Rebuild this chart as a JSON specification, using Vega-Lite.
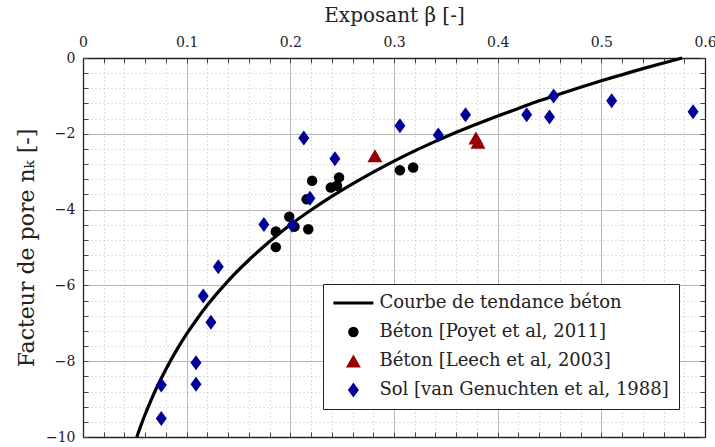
{
  "$schema": "https://vega.github.io/schema/vega-lite/v6.json",
  "autosize": {"type": "none"},
  "padding": {"left": 83, "top": 58, "right": 10, "bottom": 10},
  "width": 622,
  "height": 379,
  "background": "white",
  "config": {
    "font": "DejaVu Serif",
    "view": {"stroke": null},
    "axis": {
      "labelFont": "DejaVu Serif",
      "labelFontSize": 14,
      "labelColor": "#222",
      "titleFont": "DejaVu Serif",
      "titleFontSize": 20,
      "titleFontWeight": "normal",
      "titleColor": "#222",
      "tickColor": "#444",
      "tickWidth": 1,
      "domainColor": "#222",
      "domainWidth": 1.3
    },
    "legend": {
      "labelFont": "DejaVu Serif",
      "labelFontSize": 18,
      "labelColor": "#222",
      "labelLimit": 500
    }
  },
  "datasets": {
    "curve": [
      {"beta": 0.0519, "nk": -10}, {"beta": 0.055, "nk": -9.76}, {"beta": 0.06, "nk": -9.40},
      {"beta": 0.065, "nk": -9.07}, {"beta": 0.07, "nk": -8.76}, {"beta": 0.08, "nk": -8.21},
      {"beta": 0.09, "nk": -7.72}, {"beta": 0.10, "nk": -7.28}, {"beta": 0.11, "nk": -6.885},
      {"beta": 0.12, "nk": -6.52}, {"beta": 0.14, "nk": -5.88}, {"beta": 0.16, "nk": -5.33},
      {"beta": 0.18, "nk": -4.84}, {"beta": 0.20, "nk": -4.40}, {"beta": 0.22, "nk": -4.01},
      {"beta": 0.24, "nk": -3.65}, {"beta": 0.26, "nk": -3.32}, {"beta": 0.28, "nk": -3.01},
      {"beta": 0.30, "nk": -2.72}, {"beta": 0.32, "nk": -2.45}, {"beta": 0.34, "nk": -2.20},
      {"beta": 0.36, "nk": -1.96}, {"beta": 0.38, "nk": -1.74}, {"beta": 0.40, "nk": -1.53},
      {"beta": 0.42, "nk": -1.33}, {"beta": 0.44, "nk": -1.13}, {"beta": 0.46, "nk": -0.95},
      {"beta": 0.48, "nk": -0.77}, {"beta": 0.50, "nk": -0.60}, {"beta": 0.52, "nk": -0.44},
      {"beta": 0.54, "nk": -0.28}, {"beta": 0.56, "nk": -0.13}, {"beta": 0.578, "nk": 0}
    ],
    "pts": [
      {"beta": 0.221, "nk": -3.24, "serie": "Béton [Poyet et al, 2011]"},
      {"beta": 0.239, "nk": -3.42, "serie": "Béton [Poyet et al, 2011]"},
      {"beta": 0.245, "nk": -3.37, "serie": "Béton [Poyet et al, 2011]"},
      {"beta": 0.247, "nk": -3.15, "serie": "Béton [Poyet et al, 2011]"},
      {"beta": 0.2157, "nk": -3.73, "serie": "Béton [Poyet et al, 2011]"},
      {"beta": 0.199, "nk": -4.19, "serie": "Béton [Poyet et al, 2011]"},
      {"beta": 0.204, "nk": -4.45, "serie": "Béton [Poyet et al, 2011]"},
      {"beta": 0.186, "nk": -4.58, "serie": "Béton [Poyet et al, 2011]"},
      {"beta": 0.186, "nk": -4.99, "serie": "Béton [Poyet et al, 2011]"},
      {"beta": 0.2173, "nk": -4.52, "serie": "Béton [Poyet et al, 2011]"},
      {"beta": 0.3057, "nk": -2.96, "serie": "Béton [Poyet et al, 2011]"},
      {"beta": 0.3185, "nk": -2.89, "serie": "Béton [Poyet et al, 2011]"},
      {"beta": 0.2816, "nk": -2.58, "serie": "Béton [Leech et al, 2003]"},
      {"beta": 0.379, "nk": -2.11, "serie": "Béton [Leech et al, 2003]"},
      {"beta": 0.381, "nk": -2.22, "serie": "Béton [Leech et al, 2003]"},
      {"beta": 0.0755, "nk": -8.63, "serie": "Sol [van Genuchten et al, 1988]"},
      {"beta": 0.0755, "nk": -9.51, "serie": "Sol [van Genuchten et al, 1988]"},
      {"beta": 0.109, "nk": -8.04, "serie": "Sol [van Genuchten et al, 1988]"},
      {"beta": 0.109, "nk": -8.61, "serie": "Sol [van Genuchten et al, 1988]"},
      {"beta": 0.1234, "nk": -6.97, "serie": "Sol [van Genuchten et al, 1988]"},
      {"beta": 0.116, "nk": -6.28, "serie": "Sol [van Genuchten et al, 1988]"},
      {"beta": 0.1305, "nk": -5.51, "serie": "Sol [van Genuchten et al, 1988]"},
      {"beta": 0.1745, "nk": -4.39, "serie": "Sol [van Genuchten et al, 1988]"},
      {"beta": 0.2018, "nk": -4.41, "serie": "Sol [van Genuchten et al, 1988]"},
      {"beta": 0.2189, "nk": -3.70, "serie": "Sol [van Genuchten et al, 1988]"},
      {"beta": 0.213, "nk": -2.11, "serie": "Sol [van Genuchten et al, 1988]"},
      {"beta": 0.243, "nk": -2.66, "serie": "Sol [van Genuchten et al, 1988]"},
      {"beta": 0.3057, "nk": -1.79, "serie": "Sol [van Genuchten et al, 1988]"},
      {"beta": 0.3427, "nk": -2.03, "serie": "Sol [van Genuchten et al, 1988]"},
      {"beta": 0.369, "nk": -1.50, "serie": "Sol [van Genuchten et al, 1988]"},
      {"beta": 0.428, "nk": -1.50, "serie": "Sol [van Genuchten et al, 1988]"},
      {"beta": 0.450, "nk": -1.56, "serie": "Sol [van Genuchten et al, 1988]"},
      {"beta": 0.454, "nk": -1.00, "serie": "Sol [van Genuchten et al, 1988]"},
      {"beta": 0.510, "nk": -1.13, "serie": "Sol [van Genuchten et al, 1988]"},
      {"beta": 0.5885, "nk": -1.42, "serie": "Sol [van Genuchten et al, 1988]"}
    ]
  },
  "resolve": {"axis": {"x": "independent", "y": "independent"}},
  "layer": [
    {
      "data": {"name": "curve"},
      "mark": {"type": "line", "color": "black", "strokeWidth": 3.2, "interpolate": "monotone"},
      "encoding": {
        "x": {
          "field": "beta", "type": "quantitative",
          "scale": {"domain": [0, 0.6], "nice": false, "zero": false},
          "axis": {
            "orient": "top",
            "values": [0, 0.02, 0.04, 0.06, 0.08, 0.1, 0.12, 0.14, 0.16, 0.18, 0.2, 0.22, 0.24, 0.26, 0.28, 0.3, 0.32, 0.34, 0.36, 0.38, 0.4, 0.42, 0.44, 0.46, 0.48, 0.5, 0.52, 0.54, 0.56, 0.58, 0.6],
            "labelExpr": "abs(datum.value*10 - round(datum.value*10)) < 0.001 ? format(datum.value, '.1~f') : ''",
            "labelFlush": false,
            "labelOverlap": false,
            "tickSize": -5,
            "labelPadding": 14,
            "grid": true,
            "gridDash": {"condition": {"test": "abs(datum.value*10 - round(datum.value*10)) < 0.001", "value": []}, "value": [1, 3]},
            "gridColor": {"condition": {"test": "abs(datum.value*10 - round(datum.value*10)) < 0.001", "value": "#b8b8b8"}, "value": "#bdbdbd"},
            "gridWidth": 1,
            "domain": true,
            "title": "Exposant β [-]",
            "titleY": -37,
            "titleBaseline": "alphabetic"
          }
        },
        "y": {
          "field": "nk", "type": "quantitative",
          "scale": {"domain": [-10, 0], "nice": false, "zero": false},
          "axis": {
            "orient": "left",
            "values": [-10, -9.6, -9.2, -8.8, -8.4, -8, -7.6, -7.2, -6.8, -6.4, -6, -5.6, -5.2, -4.8, -4.4, -4, -3.6, -3.2, -2.8, -2.4, -2, -1.6, -1.2, -0.8, -0.4, 0],
            "labelExpr": "abs(datum.value/2 - round(datum.value/2)) < 0.001 ? format(datum.value, 'd') : ''",
            "labelFlush": false,
            "labelOverlap": false,
            "tickSize": -5,
            "labelPadding": 13,
            "grid": true,
            "gridDash": {"condition": {"test": "abs(datum.value/2 - round(datum.value/2)) < 0.001", "value": []}, "value": [1, 3]},
            "gridColor": {"condition": {"test": "abs(datum.value/2 - round(datum.value/2)) < 0.001", "value": "#b8b8b8"}, "value": "#bdbdbd"},
            "gridWidth": 1,
            "domain": true,
            "title": "Facteur de pore nₖ [-]",
            "titleFontSize": 22,
            "titleX": -50,
            "titleBaseline": "alphabetic"
          }
        }
      }
    },
    {
      "data": {"name": "pts"},
      "mark": {"type": "point", "filled": true, "opacity": 1, "stroke": "black"},
      "encoding": {
        "x": {
          "field": "beta", "type": "quantitative",
          "axis": {
            "orient": "bottom",
            "values": [0, 0.02, 0.04, 0.06, 0.08, 0.1, 0.12, 0.14, 0.16, 0.18, 0.2, 0.22, 0.24, 0.26, 0.28, 0.3, 0.32, 0.34, 0.36, 0.38, 0.4, 0.42, 0.44, 0.46, 0.48, 0.5, 0.52, 0.54, 0.56, 0.58, 0.6],
            "labels": false, "grid": false, "tickSize": -5, "domain": true, "title": null
          }
        },
        "y": {
          "field": "nk", "type": "quantitative",
          "axis": {
            "orient": "right",
            "values": [-10, -9.6, -9.2, -8.8, -8.4, -8, -7.6, -7.2, -6.8, -6.4, -6, -5.6, -5.2, -4.8, -4.4, -4, -3.6, -3.2, -2.8, -2.4, -2, -1.6, -1.2, -0.8, -0.4, 0],
            "labels": false, "grid": false, "tickSize": -5, "domain": true, "title": null
          }
        },
        "color": {
          "field": "serie", "type": "nominal",
          "scale": {
            "domain": ["Courbe de tendance béton", "Béton [Poyet et al, 2011]", "Béton [Leech et al, 2003]", "Sol [van Genuchten et al, 1988]"],
            "range": ["black", "black", "#990000", "#000099"]
          },
          "legend": {
            "title": null, "orient": "none", "legendX": 240, "legendY": 226,
            "strokeColor": "#222", "fillColor": "white", "padding": 10, "rowPadding": 11,
            "symbolOffset": 11.4, "labelOffset": 17
          }
        },
        "shape": {
          "field": "serie", "type": "nominal",
          "scale": {
            "domain": ["Courbe de tendance béton", "Béton [Poyet et al, 2011]", "Béton [Leech et al, 2003]", "Sol [van Genuchten et al, 1988]"],
            "range": ["M-2.86,0L2.86,0", "circle", "triangle-up", "M-0.73,0L0,-1L0.73,0L0,1Z"]
          },
          "legend": {
            "title": null, "orient": "none", "legendX": 240, "legendY": 226,
            "strokeColor": "#222", "fillColor": "white", "padding": 10, "rowPadding": 11,
            "symbolOffset": 11.4, "labelOffset": 17
          }
        },
        "size": {
          "field": "serie", "type": "nominal",
          "scale": {
            "type": "ordinal",
            "domain": ["Courbe de tendance béton", "Béton [Poyet et al, 2011]", "Béton [Leech et al, 2003]", "Sol [van Genuchten et al, 1988]"],
            "range": [196, 110, 225, 225]
          },
          "legend": {
            "title": null, "orient": "none", "legendX": 240, "legendY": 226,
            "strokeColor": "#222", "fillColor": "white", "padding": 10, "rowPadding": 11,
            "symbolOffset": 11.4, "labelOffset": 17
          }
        },
        "strokeWidth": {
          "field": "serie", "type": "nominal",
          "scale": {
            "type": "ordinal",
            "domain": ["Courbe de tendance béton", "Béton [Poyet et al, 2011]", "Béton [Leech et al, 2003]", "Sol [van Genuchten et al, 1988]"],
            "range": [3.2, 0, 0, 0]
          },
          "legend": {
            "title": null, "orient": "none", "legendX": 240, "legendY": 226,
            "strokeColor": "#222", "fillColor": "white", "padding": 10, "rowPadding": 11,
            "symbolOffset": 11.4, "labelOffset": 17
          }
        }
      }
    }
  ]
}
